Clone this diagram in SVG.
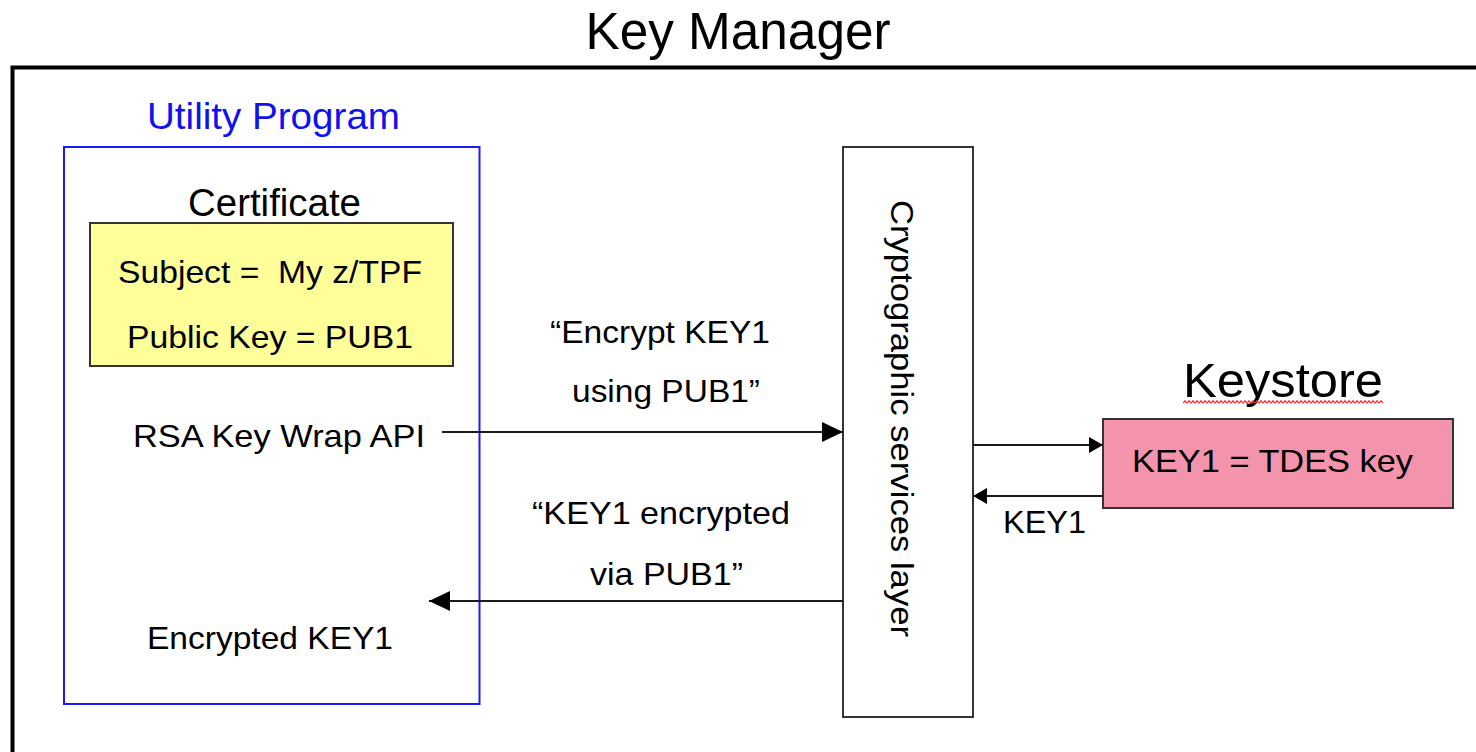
<svg xmlns="http://www.w3.org/2000/svg" width="1476" height="752" viewBox="0 0 1476 752">
  <style>
    text { font-family: "Liberation Sans", Arial, sans-serif; fill: #000; }
    .body { font-size: 32px; }
    .conn { stroke: #1a1a1a; stroke-width: 2; fill: none; }
    .box { stroke: #333; stroke-width: 2; }
  </style>
  <defs>
    <marker id="arrowLg" markerUnits="userSpaceOnUse" markerWidth="22" markerHeight="22" refX="21" refY="10" orient="auto">
      <path d="M0,0 L21,10 L0,20 Z" fill="#000"/>
    </marker>
    <marker id="arrowSm" markerUnits="userSpaceOnUse" markerWidth="16" markerHeight="18" refX="14" refY="8" orient="auto">
      <path d="M0,0 L14,8 L0,16 Z" fill="#000"/>
    </marker>
    <pattern id="squiggle" patternUnits="userSpaceOnUse" x="1183" y="400" width="4" height="4">
      <path d="M0,3.2 L2,0.8 L4,3.2" stroke="#ff2a2a" stroke-width="1.3" fill="none"/>
    </pattern>
  </defs>

  <rect width="1476" height="752" fill="#fff"/>

  <!-- Title and outer frame -->
  <g id="key-manager">
    <text x="738" y="49" font-size="51" text-anchor="middle" textLength="305" lengthAdjust="spacingAndGlyphs">Key Manager</text>
    <path d="M12.5,760 L12.5,67.5 L1480,67.5" stroke="#000" stroke-width="4" fill="none"/>
  </g>

  <!-- Utility program -->
  <g id="utility-program">
    <text x="147" y="129" font-size="37" style="fill:#1010f0" textLength="253" lengthAdjust="spacingAndGlyphs">Utility Program</text>
    <rect x="64" y="147" width="415.5" height="557" fill="none" stroke="#1a1aff" stroke-width="2"/>
    <text x="188" y="215.5" font-size="38" textLength="173" lengthAdjust="spacingAndGlyphs">Certificate</text>
    <text class="body" x="133" y="447" textLength="292" lengthAdjust="spacingAndGlyphs">RSA Key Wrap API</text>
    <text class="body" x="147" y="649" textLength="246" lengthAdjust="spacingAndGlyphs">Encrypted KEY1</text>
  </g>

  <!-- Certificate contents -->
  <g id="certificate">
    <rect class="box" x="90" y="223" width="363" height="143" fill="#ffff99"/>
    <text class="body" x="118" y="283" textLength="304" lengthAdjust="spacingAndGlyphs" xml:space="preserve">Subject =  My z/TPF</text>
    <text class="body" x="127" y="348" textLength="286" lengthAdjust="spacingAndGlyphs">Public Key = PUB1</text>
  </g>

  <!-- Cryptographic services layer -->
  <g id="crypto-layer">
    <rect class="box" x="843" y="147" width="130" height="570" fill="#fff"/>
    <text class="body" transform="translate(891,200) rotate(90)" x="0" y="0" textLength="437" lengthAdjust="spacingAndGlyphs">Cryptographic services layer</text>
  </g>

  <!-- Keystore -->
  <g id="keystore">
    <text x="1183" y="397" font-size="48" textLength="200" lengthAdjust="spacingAndGlyphs">Keystore</text>
    <rect x="1183" y="400" width="200" height="4" fill="url(#squiggle)"/>
    <rect class="box" x="1103" y="419" width="350" height="89" fill="#f394ac"/>
    <text class="body" x="1132" y="472" textLength="281" lengthAdjust="spacingAndGlyphs">KEY1 = TDES key</text>
  </g>

  <!-- Connectors -->
  <g id="connectors">
    <line class="conn" x1="442" y1="432" x2="843" y2="432" marker-end="url(#arrowLg)"/>
    <line class="conn" x1="843" y1="601" x2="429" y2="601" marker-end="url(#arrowLg)"/>
    <line class="conn" x1="973" y1="445" x2="1103" y2="445" marker-end="url(#arrowSm)"/>
    <line class="conn" x1="1103" y1="496" x2="973" y2="496" marker-end="url(#arrowSm)"/>
  </g>

  <!-- Connector labels -->
  <g id="connector-labels">
    <text class="body" x="550" y="343" textLength="220" lengthAdjust="spacingAndGlyphs">“Encrypt KEY1</text>
    <text class="body" x="572" y="402" textLength="188" lengthAdjust="spacingAndGlyphs">using PUB1”</text>
    <text class="body" x="532" y="524" textLength="258" lengthAdjust="spacingAndGlyphs">“KEY1 encrypted</text>
    <text class="body" x="590" y="585" textLength="153" lengthAdjust="spacingAndGlyphs">via PUB1”</text>
    <text class="body" x="1003" y="533" textLength="83" lengthAdjust="spacingAndGlyphs">KEY1</text>
  </g>
</svg>
